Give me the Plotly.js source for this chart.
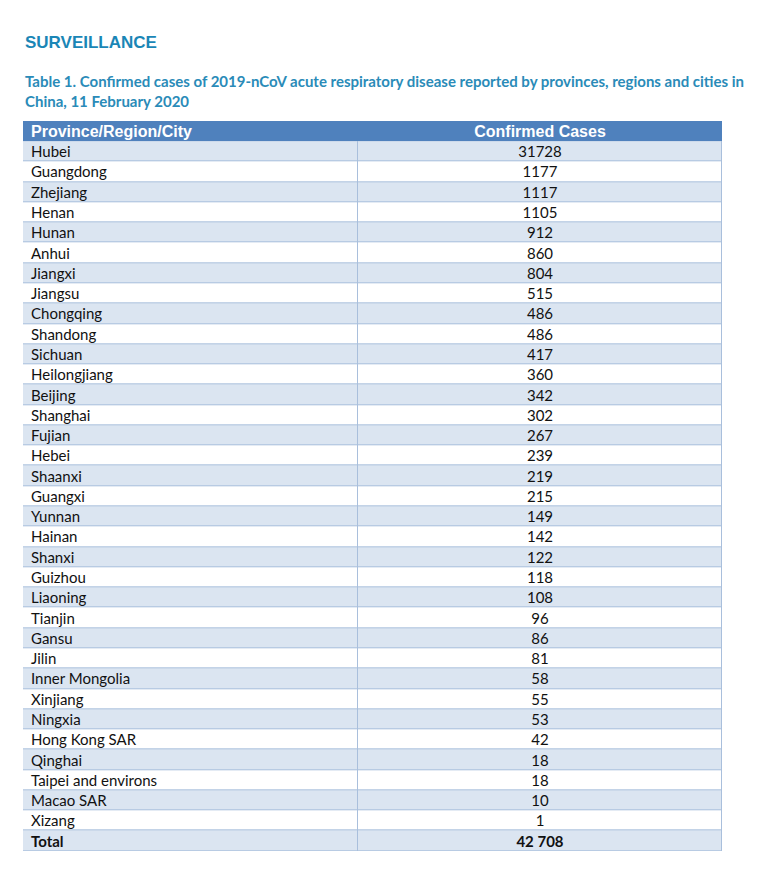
<!DOCTYPE html>
<html>
<head>
<meta charset="utf-8">
<script src="https://cdn.plot.ly/plotly-3.0.1.min.js"></script>
<style>
  html, body { margin: 0; padding: 0; background: #fff; }
  #tbl { width: 768px; height: 873px; }
</style>
</head>
<body>
<div id="tbl"></div>
<script>
// Province / region / city names, as listed in the table
var regions = ['Hubei', 'Guangdong', 'Zhejiang', 'Henan', 'Hunan', 'Anhui', 'Jiangxi',
  'Jiangsu', 'Chongqing', 'Shandong', 'Sichuan', 'Heilongjiang', 'Beijing', 'Shanghai',
  'Fujian', 'Hebei', 'Shaanxi', 'Guangxi', 'Yunnan', 'Hainan', 'Shanxi', 'Guizhou',
  'Liaoning', 'Tianjin', 'Gansu', 'Jilin', 'Inner Mongolia', 'Xinjiang', 'Ningxia',
  'Hong Kong SAR', 'Qinghai', 'Taipei and environs', 'Macao SAR', 'Xizang'];

// Confirmed cases, same order
var cases = [31728, 1177, 1117, 1105, 912, 860, 804, 515, 486, 486, 417, 360, 342, 302,
  267, 239, 219, 215, 149, 142, 122, 118, 108, 96, 86, 81, 58, 55, 53, 42, 18, 18, 10, 1];

var headers = ['Province/Region/City', 'Confirmed Cases'];
var totalLabel = 'Total';
var totalText = '42 708';

var W = 768, H = 873;
var colW = [335, 364];          // column widths in px (axis units)
var tableW = colW[0] + colW[1];
var textDrop = 0.1;             // nudge text a little below row centre

// body rows = data + total row; row 0 is the header
var labels = regions.concat(['<b>' + totalLabel + '</b>']);
var values = cases.map(String).concat(['<b>' + totalText + '</b>']);
var nRows = labels.length + 1;

// brick edges for the banded body
var xEdges = [0, colW[0], tableW];
var yEdges = [];
for (var i = 1; i <= nRows; i++) yEdges.push(i);
var z = labels.map(function (_, i) { return i % 2 === 0 ? [1, 1] : [2, 2]; });

var rowMid = labels.map(function (_, i) { return i + 1.5 + textDrop; });

var body = {
  type: 'heatmap',
  x: xEdges, y: yEdges, z: z,
  zmin: 0, zmax: 2,
  colorscale: [[0, '#4f81bd'], [0.5, '#dbe5f1'], [1, '#ffffff']],
  showscale: false, xgap: 1, ygap: 1, hoverinfo: 'skip'
};

var head = {
  type: 'heatmap',
  x: [0, tableW], y: [0, 1], z: [[0]],
  zmin: 0, zmax: 2,
  colorscale: body.colorscale,
  showscale: false, hoverinfo: 'skip'
};

var cellFont = { family: 'Lato, Carlito, sans-serif', size: 15, color: '#111111' };

var leftText = {
  type: 'scatter', mode: 'text',
  x: labels.map(function () { return 8; }), y: rowMid,
  text: labels, textposition: 'middle right',
  textfont: cellFont, hoverinfo: 'skip'
};

var rightText = {
  type: 'scatter', mode: 'text',
  x: values.map(function () { return colW[0] + colW[1] / 2; }), y: rowMid,
  text: values, textposition: 'middle center',
  textfont: cellFont, hoverinfo: 'skip'
};

var headText = {
  type: 'scatter', mode: 'text',
  x: [8, colW[0] + colW[1] / 2], y: [0.5 + textDrop, 0.5 + textDrop],
  text: headers.map(function (h) { return '<b>' + h + '</b>'; }),
  textposition: ['middle right', 'middle center'],
  textfont: { family: 'Liberation Sans, Arial, sans-serif', size: 16, color: '#ffffff' },
  hoverinfo: 'skip'
};

var hidden = { visible: false, fixedrange: true };

var layout = {
  width: W,
  height: H,
  margin: { l: 0, r: 0, t: 0, b: 0 },
  paper_bgcolor: '#ffffff',
  plot_bgcolor: '#a9bfdc',
  showlegend: false,
  xaxis: Object.assign({ domain: [23 / W, 722 / W], range: [0, tableW] }, hidden),
  yaxis: Object.assign({ domain: [1 - 851 / H, 1 - 121 / H], range: [nRows, 0] }, hidden),
  annotations: [
    {
      text: '<b>SURVEILLANCE</b>',
      xref: 'paper', yref: 'paper', x: 23 / W, y: 1 - 42 / H,
      xanchor: 'left', yanchor: 'middle', showarrow: false,
      font: { family: 'Liberation Sans, Arial, sans-serif', size: 17, color: '#1a86b6' }
    },
    {
      text: '<b>Table 1. Confirmed cases of 2019-nCoV acute respiratory disease reported by provinces, regions and cities in</b>',
      xref: 'paper', yref: 'paper', x: 23 / W, y: 1 - 81 / H,
      xanchor: 'left', yanchor: 'middle', showarrow: false,
      font: { family: 'Lato, Carlito, sans-serif', size: 15, color: '#2a8bb8' }
    },
    {
      text: '<b>China, 11 February 2020</b>',
      xref: 'paper', yref: 'paper', x: 23 / W, y: 1 - 101 / H,
      xanchor: 'left', yanchor: 'middle', showarrow: false,
      font: { family: 'Lato, Carlito, sans-serif', size: 15, color: '#2a8bb8' }
    }
  ]
};

Plotly.newPlot('tbl', [body, head, leftText, rightText, headText], layout,
  { displayModeBar: false, staticPlot: true });
</script>
</body>
</html>
